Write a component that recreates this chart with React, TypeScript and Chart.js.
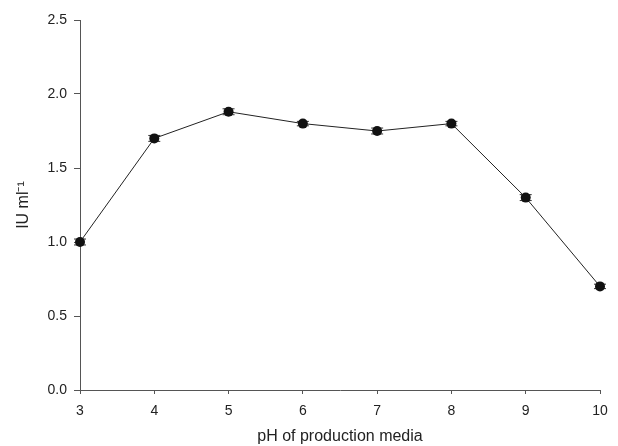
import React, { useEffect, useRef } from "react";
import { Chart, registerables } from "chart.js";

Chart.register(...registerables);

const phValues = [3, 4, 5, 6, 7, 8, 9, 10];
const activity = [1.0, 1.7, 1.88, 1.8, 1.75, 1.8, 1.3, 0.7];
const activityErr = [0.02, 0.02, 0.02, 0.015, 0.02, 0.015, 0.02, 0.015];
const xTitle = "pH of production media";
const yTitle = "IU ml\u207B\u00B9";

const errorBars = {
  id: "errorBars",
  beforeDatasetsDraw(chart: any) {
    const { ctx, scales } = chart;
    const meta = chart.getDatasetMeta(0);
    ctx.save();
    ctx.strokeStyle = "#333";
    ctx.lineWidth = 1;
    meta.data.forEach((pt: any, i: number) => {
      const x = pt.x;
      const yTop = scales.y.getPixelForValue(activity[i] + activityErr[i]);
      const yBot = scales.y.getPixelForValue(activity[i] - activityErr[i]);
      const half = 6;
      ctx.beginPath();
      ctx.moveTo(x, yTop);
      ctx.lineTo(x, yBot);
      ctx.moveTo(x - half, yTop);
      ctx.lineTo(x + half, yTop);
      ctx.moveTo(x - half, yBot);
      ctx.lineTo(x + half, yBot);
      ctx.stroke();
    });
    ctx.restore();
  },
};

export default function App() {
  const ref = useRef<HTMLCanvasElement>(null);
  useEffect(() => {
    document.body.style.margin = "0";
    const ctx = ref.current!;
    const family = "'Liberation Sans', Arial, sans-serif";
    const font = { family, size: 14 };
    const chart = new Chart(ctx, {
      type: "scatter",
      data: {
        datasets: [
          {
            data: phValues.map((x, i) => ({ x, y: activity[i] })),
            showLine: true,
            clip: false,
            borderColor: "#222",
            borderWidth: 1,
            pointRadius: 5,
            pointBackgroundColor: "#111",
            pointBorderColor: "#111",
            pointBorderWidth: 0,
          },
        ],
      },
      plugins: [errorBars],
      options: {
        animation: false,
        responsive: false,
        layout: { padding: { left: 0, right: 18, top: 20, bottom: 0 } },
        plugins: { legend: { display: false }, tooltip: { enabled: false } },
        scales: {
          x: {
            type: "linear",
            min: 3,
            max: 10,
            afterFit: (s: any) => {
              s.height = 56;
            },
            ticks: { stepSize: 1, color: "#222", font, padding: 9 },
            grid: { drawOnChartArea: false, drawTicks: true, tickLength: 4, color: "#555" },
            border: { color: "#555", width: 1 },
            title: {
              display: true,
              text: xTitle,
              color: "#222",
              font: { family, size: 16 },
              padding: { top: 0, bottom: 0 },
            },
          },
          y: {
            type: "linear",
            min: 0,
            max: 2.5,
            afterFit: (s: any) => {
              s.width = 80;
            },
            ticks: {
              stepSize: 0.5,
              color: "#222",
              font,
              padding: 7,
              callback: (v: any) => Number(v).toFixed(1),
            },
            grid: { drawOnChartArea: false, drawTicks: true, tickLength: 6, color: "#555" },
            border: { color: "#555", width: 1 },
            title: {
              display: true,
              text: yTitle,
              color: "#222",
              font: { family, size: 16 },
              padding: { top: 14, bottom: 0 },
            },
          },
        },
      },
    });
    return () => chart.destroy();
  }, []);
  return (
    <div style={{ width: 618, height: 446, background: "#fff" }}>
      <canvas ref={ref} width={618} height={446} />
    </div>
  );
}
